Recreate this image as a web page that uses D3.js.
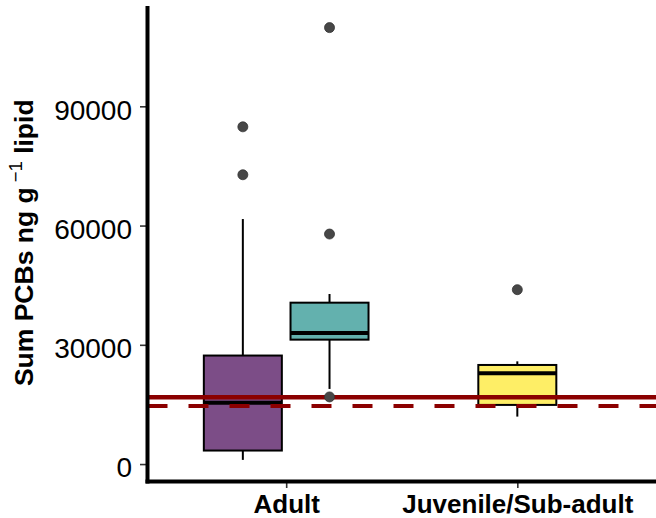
<!DOCTYPE html>
<html>
<head>
<meta charset="utf-8">
<script src="https://cdn.jsdelivr.net/npm/d3@7/dist/d3.min.js"></script>
<style>
  html, body { margin: 0; padding: 0; background: #fff; }
  svg { display: block; font-family: "Liberation Sans", Arial, sans-serif; }
</style>
</head>
<body>
<svg id="chart" width="656" height="518"></svg>
<script>
// ---- data ----
const categories = ["Adult", "Juvenile/Sub-adult"];
const boxCategory = ["Adult", "Adult", "Juvenile/Sub-adult"];
const boxFill = ["#440154", "#21908C", "#FDE725"];
const whiskerLow = [1050, 18900, 11940];
const q1 = [3400, 31300, 14880];
const median = [15450, 33000, 22830];
const q3 = [27300, 40600, 24930];
const whiskerHigh = [61640, 42780, 25840];
const outliers = [[84840, 72780], [109800, 57870, 16890], [43870]];
const refSolid = 16790;
const refDashed = 14630;
const yTicks = [0, 30000, 60000, 90000];

// ---- layout ----
const pLeft = 147.5, pRight = 656, pTop = 6, pBottom = 481.5;
const svg = d3.select("#chart");

const x = d3.scalePoint().domain(categories).range([pLeft, pRight]).padding(0.6);
const step = x.step();

const allVals = whiskerLow.concat(whiskerHigh, outliers.flat());
const ymin = d3.min(allVals), ymax = d3.max(allVals);
const pad = (ymax - ymin) * 0.05;
const y = d3.scaleLinear().domain([ymin - pad, ymax + pad]).range([pBottom, pTop]);

// dodge positions
const maxN = d3.max(categories, c => boxCategory.filter(b => b === c).length);
const slot = 0.75 / maxN;
const boxes = boxCategory.map((c, i) => {
  const members = boxCategory.map((b, j) => b === c ? j : -1).filter(j => j >= 0);
  const k = members.indexOf(i), n = members.length;
  const off = (k - (n - 1) / 2) * slot;
  return {
    cx: x(c) + off * step, w: 0.9 * slot * step, fill: boxFill[i],
    lo: whiskerLow[i], q1: q1[i], med: median[i], q3: q3[i], hi: whiskerHigh[i], out: outliers[i]
  };
});

const plot = svg.append("g");

// boxes
const bg = plot.selectAll("g.box").data(boxes).join("g").attr("class", "box");
bg.append("line").attr("x1", d => d.cx).attr("x2", d => d.cx)
  .attr("y1", d => y(d.hi)).attr("y2", d => y(d.q3))
  .attr("stroke", "#000").attr("stroke-width", 2);
bg.append("line").attr("x1", d => d.cx).attr("x2", d => d.cx)
  .attr("y1", d => y(d.q1)).attr("y2", d => y(d.lo))
  .attr("stroke", "#000").attr("stroke-width", 2);
bg.append("rect").attr("x", d => d.cx - d.w / 2).attr("width", d => d.w)
  .attr("y", d => y(d.q3)).attr("height", d => y(d.q1) - y(d.q3))
  .attr("fill", d => d.fill).attr("fill-opacity", 0.7)
  .attr("stroke", "#000").attr("stroke-width", 2);
bg.append("line").attr("x1", d => d.cx - d.w / 2).attr("x2", d => d.cx + d.w / 2)
  .attr("y1", d => y(d.med)).attr("y2", d => y(d.med))
  .attr("stroke", "#000").attr("stroke-width", 4);

// reference lines
plot.append("line").attr("x1", pLeft).attr("x2", pRight)
  .attr("y1", y(refSolid)).attr("y2", y(refSolid))
  .attr("stroke", "#8B0000").attr("stroke-width", 4.5);
plot.append("line").attr("x1", pLeft).attr("x2", pRight)
  .attr("y1", y(refDashed)).attr("y2", y(refDashed))
  .attr("stroke", "#8B0000").attr("stroke-width", 4)
  .attr("stroke-dasharray", "20,21");

// outliers
plot.selectAll("g.out").data(boxes).join("g").attr("class", "out")
  .selectAll("circle").data(d => d.out.map(v => ({cx: d.cx, v})))
  .join("circle").attr("cx", d => d.cx).attr("cy", d => y(d.v)).attr("r", 5)
  .attr("fill", "#474747").attr("stroke", "#333").attr("stroke-width", 0.8);

// y axis
const yAxis = svg.append("g").attr("transform", `translate(${pLeft - 1.5},0)`)
  .call(d3.axisLeft(y).tickValues(yTicks).tickSize(6).tickPadding(8).tickFormat(d3.format("d")));
yAxis.select(".domain").remove();
yAxis.selectAll(".tick line").attr("stroke", "#333").attr("stroke-width", 1.6);
yAxis.selectAll(".tick text").attr("font-size", 28).attr("fill", "#000")
  .attr("dy", "0.46em").attr("font-family", "Liberation Sans, Arial, sans-serif");

// x axis
const xAxis = svg.append("g").attr("transform", `translate(0,${pBottom + 1.5})`)
  .call(d3.axisBottom(x).tickSize(5).tickPadding(6));
xAxis.select(".domain").remove();
xAxis.selectAll(".tick line").attr("stroke", "#333").attr("stroke-width", 1.6);
xAxis.selectAll(".tick text").attr("font-size", 26).attr("font-weight", "bold")
  .attr("fill", "#000").attr("dy", null).attr("y", 513 - pBottom - 1.5)
  .attr("font-family", "Liberation Sans, Arial, sans-serif");

// axis lines
svg.append("line").attr("x1", pLeft).attr("x2", pLeft).attr("y1", pTop).attr("y2", pBottom + 2)
  .attr("stroke", "#000").attr("stroke-width", 4);
svg.append("line").attr("x1", pLeft - 2).attr("x2", pRight).attr("y1", pBottom).attr("y2", pBottom)
  .attr("stroke", "#000").attr("stroke-width", 4);

// y title
const t = svg.append("text")
  .attr("transform", `translate(33,${(pTop + pBottom) / 2 - 1}) rotate(-90)`)
  .attr("text-anchor", "middle").attr("font-size", 26.5).attr("font-weight", "bold")
  .attr("fill", "#000");
t.append("tspan").text("Sum PCBs ng g");
t.append("tspan").text("\u22121").attr("font-size", 18.5).attr("font-weight", "normal")
  .attr("dy", -11).attr("dx", 5);
t.append("tspan").text(" lipid").attr("dy", 11);
</script>
</body>
</html>
